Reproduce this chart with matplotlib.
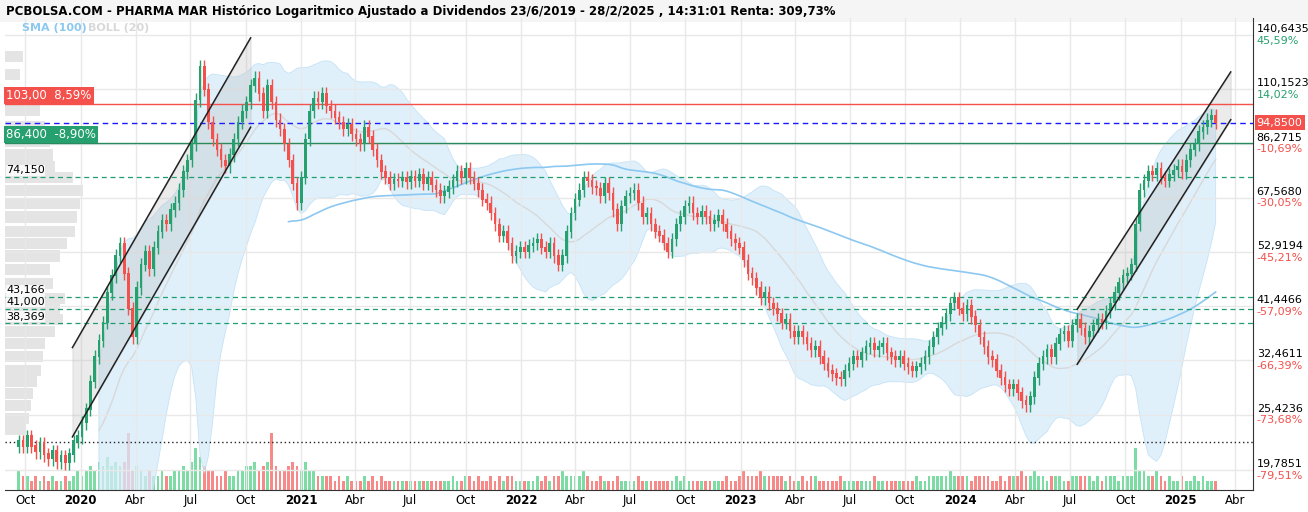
import numpy as np
import pandas as pd
import matplotlib
matplotlib.use("Agg")
import matplotlib.pyplot as plt

# weekly closes, Sep 2019 .. Feb 2025
closes = [
    22.5, 22.0, 23.0,
    22.0, 21.5, 22.3, 21.2,
    20.8, 21.5, 20.5, 21.0, 20.4,
    21.2, 22.5, 23.0, 24.5,
    26.0, 29.5, 33.0, 35.5, 38.5,
    44.0, 47.5, 52.0, 55.0,
    48.0, 41.0, 36.0, 45.0,
    50.0, 53.0, 49.0, 54.0,
    58.0, 61.0, 60.0, 64.0, 66.0,
    70.0, 76.0, 80.0, 86.0,
    105.0, 122.0, 110.0, 95.0, 88.0,
    84.0, 80.0, 78.0, 82.0,
    88.0, 95.0, 100.0, 104.0,
    112.0, 116.0, 108.0, 100.0, 112.0,
    104.0, 96.0, 92.0, 86.0,
    80.0, 72.0, 66.0, 74.0,
    88.0, 100.0, 106.0, 104.0, 108.0,
    102.0, 100.0, 97.0, 95.0,
    92.0, 94.0, 90.0, 88.0,
    86.0, 93.0, 89.0, 84.0, 80.0,
    76.0, 74.0, 72.0, 73.5,
    73.0, 74.0, 72.5, 74.5,
    73.0, 75.0, 72.0, 74.0, 71.5,
    70.0, 68.0, 69.5, 71.0,
    73.0, 76.0, 74.0, 77.0,
    74.0, 72.0, 70.0, 67.0, 66.0,
    63.0, 60.0, 57.0, 58.0,
    55.0, 52.0, 53.0, 54.0,
    53.0, 54.5, 55.0, 56.0,
    54.0, 53.0, 55.0, 52.0,
    50.0, 52.0, 58.0, 63.0,
    67.0, 70.0, 74.0, 73.0, 71.0,
    70.5, 68.0, 72.0, 69.0,
    64.0, 60.0, 65.0, 68.0,
    69.0, 70.0, 66.0, 62.0, 63.0,
    60.0, 58.0, 57.0, 55.0,
    53.0, 56.0, 60.0, 62.0, 65.0,
    66.0, 63.0, 62.0, 63.5,
    62.0, 60.0, 61.0, 62.5,
    60.0, 58.0, 56.0, 55.0, 54.0,
    51.0, 48.0, 47.0, 45.0,
    43.0, 44.0, 42.0, 41.0,
    40.0, 38.5, 39.0, 37.0, 36.0,
    37.0, 36.0, 35.0, 34.0,
    34.5, 33.0, 32.0, 31.0,
    30.5, 30.0, 29.8, 31.0, 32.0,
    33.0, 32.5, 33.5, 34.5,
    35.0, 34.0, 34.5, 35.0,
    33.5, 33.0, 32.5, 33.0, 32.0,
    31.5, 31.0, 31.5, 32.0,
    33.0, 34.5, 36.0, 37.5,
    38.5, 40.0, 42.0, 43.0, 41.0,
    40.0, 41.5, 39.5, 38.0,
    36.0, 34.5, 33.0, 32.5,
    31.0, 30.0, 29.0, 28.5, 29.0,
    28.0, 27.0, 26.5, 27.5,
    30.0, 32.0, 33.0, 34.0, 33.0,
    35.0, 36.5, 37.0, 35.5,
    38.0, 39.0, 37.5, 36.0,
    37.0, 38.0, 39.0, 38.5, 40.5,
    42.0, 44.0, 46.0, 47.5,
    48.0, 50.0, 60.0, 70.0,
    73.0, 76.0, 75.0, 77.0, 74.0,
    73.0, 75.0, 76.5, 78.0,
    76.0, 80.0, 84.0, 86.0, 91.0,
    93.0, 96.0, 98.0, 94.85,
]
first_open = 22.0

volumes = [
    4, 3, 3,
    2, 3, 2, 3,
    2, 3, 2, 2, 3,
    2, 3, 4, 3,
    4, 5, 4, 6, 5,
    7, 5, 6, 5,
    6, 12, 4, 5,
    4, 3, 4, 3,
    3, 4, 3, 3, 4,
    4, 5, 4, 6,
    9, 7, 5, 4, 4,
    3, 3, 4, 3,
    3, 4, 4, 5,
    5, 6, 4, 5, 6,
    12, 5, 4, 4,
    5, 6, 5, 4,
    6, 4, 4, 3, 3,
    3, 3, 2, 3,
    2, 3, 2, 2,
    2, 3, 2, 3, 2,
    3, 2, 2, 2,
    2, 2, 2, 2,
    2, 2, 2, 2, 2,
    2, 2, 2, 2,
    3, 2, 2, 3,
    3, 2, 3, 2, 2,
    3, 2, 3, 2,
    3, 3, 2, 2,
    2, 2, 2, 3,
    2, 3, 2, 3,
    3, 4, 3, 3,
    3, 3, 4, 3, 2,
    2, 3, 2, 2,
    2, 3, 2, 2,
    2, 2, 3, 2, 2,
    2, 2, 2, 2,
    2, 2, 3, 2, 3,
    2, 2, 2, 2,
    2, 2, 2, 2,
    2, 3, 2, 2, 3,
    4, 3, 3, 3,
    4, 3, 3, 3,
    3, 3, 2, 3, 2,
    2, 3, 2, 3,
    3, 2, 2, 2,
    2, 2, 3, 2, 2,
    2, 2, 2, 2,
    2, 3, 2, 2,
    2, 2, 2, 2, 2,
    2, 2, 3, 2,
    2, 3, 3, 3,
    3, 3, 4, 3, 3,
    3, 3, 2, 3,
    3, 3, 3, 2,
    2, 3, 2, 3, 3,
    3, 4, 3, 3,
    4, 3, 3, 2, 3,
    3, 3, 2, 2,
    3, 3, 3, 3,
    3, 2, 3, 2, 3,
    3, 3, 2, 3,
    3, 3, 9, 4,
    4, 3, 3, 4, 3,
    2, 3, 2, 2,
    3, 2, 2, 3, 2,
    3, 2, 2, 2,
]

# left volume-by-price profile
profile_prices = [128, 118, 108, 100, 93, 87, 82, 78, 74, 70, 66, 62, 58, 55, 52, 49,
                  46, 43, 41, 39, 37, 35, 33, 31, 29.5, 28, 26.5, 25, 23.8]
profile_widths = [18, 15, 20, 35, 40, 45, 48, 50, 68, 78, 75, 72, 70, 62, 55, 45,
                  48, 60, 55, 58, 50, 40, 38, 36, 32, 28, 26, 24, 20]

# channels: (start date, end date), upper start/end, lower start/end
channel_dates = [("2019-12-18", "2020-10-09"), ("2024-07-13", "2025-03-25")]
channel_upper = [(34.4, 139.0), (40.9, 119.2)]
channel_lower = [(23.0, 92.9), (31.9, 96.1)]

levels = [43.166, 41.0, 38.369, 74.15]
level_texts = ["43,166", "41,000", "38,369", "74,150"]
last_price = 94.85
red_level, green_level = 103.0, 86.4
base_level = 22.45

tick_prices = [140.6435, 110.1523, 86.2715, 67.568, 52.9194, 41.4466, 32.4611, 25.4236, 19.7851]
tick_pcts = ["45,59%", "14,02%", "-10,69%", "-30,05%", "-45,21%", "-57,09%", "-66,39%", "-73,68%", "-79,51%"]

GREEN = "#26a06e"
RED = "#f4504c"

dates = pd.date_range(end="2025-02-28", periods=len(closes), freq="W-FRI")
c = np.array(closes)
o = np.concatenate([[first_open], c[:-1]])
hi = np.maximum(o, c) * 1.03
lo = np.minimum(o, c) * 0.97
s = pd.Series(c, index=dates)
mid = s.rolling(20).mean()
sd = s.rolling(20).std()
sma = s.rolling(100, min_periods=65).mean()

W, H = 1308, 512
fig = plt.figure(figsize=(W / 100, H / 100), dpi=100)
ax = fig.add_axes([5 / W, 22 / H, 1248 / W, 472 / H])
ax.set_yscale("log")
ax.set_ylim(18.1, 152)
x0, x1 = pd.Timestamp("2019-08-28"), pd.Timestamp("2025-05-01")
ax.set_xlim(x0, x1)

# volume panel
vax = fig.add_axes(ax.get_position(), sharex=ax, frameon=False)
vax.set_ylim(0, 100)
vax.patch.set_alpha(0)
vcol = np.where(c >= o, "#7ddca3", "#f78a88")
vax.bar(dates, volumes, width=4.5, color=vcol, zorder=1)
vax.set_yticks([])
vax.tick_params(axis="x", bottom=False, labelbottom=False)

# profile (left, pixel widths)
pax = fig.add_axes(ax.get_position(), sharey=ax, frameon=False)
pax.set_xlim(0, 1248)
pax.barh(profile_prices, profile_widths, height=[p * 0.05 for p in profile_prices],
         color="#e4e4e4", zorder=0)
pax.set_xticks([])
pax.tick_params(axis="y", left=False, labelleft=False)
pax.patch.set_alpha(0)
ax.set_zorder(3)
ax.patch.set_alpha(0)

# grid
ax.set_yticks(tick_prices)
ax.yaxis.set_minor_locator(matplotlib.ticker.NullLocator())
ax.grid(True, color="#e8e8e8", lw=1)
ax.tick_params(axis="y", left=False, right=False, labelleft=False)

# bollinger and sma
ax.fill_between(dates, mid - 2 * sd, mid + 2 * sd, color="#d5ebfa", alpha=0.75, lw=0.6,
                edgecolor="#b9dcf5", zorder=1)
ax.plot(dates, mid, color="#d8d8d8", lw=1, zorder=1)
ax.plot(dates, sma, color="#8cc8f0", lw=1.2, zorder=2)

# channels
for (d0, d1), (u0, u1), (l0, l1) in zip(channel_dates, channel_upper, channel_lower):
    xd = [pd.Timestamp(d0), pd.Timestamp(d1)]
    ax.fill_between(xd, [l0, l1], [u0, u1], color="#bdbdbd", alpha=0.3, zorder=2)
    ax.plot(xd, [u0, u1], color="#222", lw=1.1, zorder=5)
    ax.plot(xd, [l0, l1], color="#222", lw=1.1, zorder=5)

# candles
col = np.where(c >= o, GREEN, RED)
ax.vlines(dates, lo, hi, color=col, lw=1, zorder=4)
ax.bar(dates, np.abs(c - o) + 0.15, bottom=np.minimum(o, c), width=4.5, color=col, zorder=4)

# levels
for lv in levels:
    ax.axhline(lv, color="#1f9e6e", lw=0.9, ls=(0, (4, 3)), zorder=3)
ax.axhline(red_level, color=RED, lw=1, zorder=3)
ax.axhline(green_level, color="#2a8a5e", lw=1, zorder=3)
ax.axhline(last_price, color="#1a1aff", lw=1, ls=(0, (4, 3)), zorder=3)
ax.axhline(base_level, color="#222", lw=1, ls=(0, (1, 2)), zorder=3)

tr = ax.get_yaxis_transform()
ax.text(0.001, red_level * 1.01, "103,00  8,59%", transform=tr, color="white", fontsize=8.5,
        va="bottom", bbox=dict(fc=RED, ec="none", pad=1.5), zorder=6)
ax.text(0.001, green_level * 1.01, "86,400  -8,90%", transform=tr, color="white", fontsize=8.5,
        va="bottom", bbox=dict(fc=GREEN, ec="none", pad=1.5), zorder=6)
for lv, t in zip(levels, level_texts):
    ax.text(0.001, lv * 1.008, t, transform=tr, fontsize=8, va="bottom", zorder=6,
            bbox=dict(fc="white", ec="none", pad=0.3, alpha=0.8))

# right price labels
for p, pc in zip(tick_prices, tick_pcts):
    ax.text(1.003, p * 1.005, f"{p:.4f}".replace(".", ","), transform=tr, fontsize=8,
            va="bottom", clip_on=False)
    ax.text(1.003, p * 0.997, pc, transform=tr, fontsize=8, va="top", clip_on=False,
            color=RED if pc.startswith("-") else GREEN)
ax.text(1.003, last_price, "94,8500", transform=tr, fontsize=8, va="center", color="white",
        clip_on=False, bbox=dict(fc=RED, ec="none", pad=1.5), zorder=7)

# x axis
ticks, labels = [], []
for yr in range(2019, 2026):
    for m, name in [(1, str(yr)), (4, "Abr"), (7, "Jul"), (10, "Oct")]:
        t = pd.Timestamp(yr, m, 1)
        if x0 < t < x1:
            ticks.append(t)
            labels.append(name)
ax.set_xticks(ticks)
ax.set_xticklabels(labels, fontsize=8.5)
for lb in ax.get_xticklabels():
    if lb.get_text().isdigit():
        lb.set_fontweight("bold")
ax.tick_params(axis="x", length=0, pad=3)
for sp in ["top", "left"]:
    ax.spines[sp].set_visible(False)
ax.spines["right"].set_color("#333")
ax.spines["bottom"].set_color("#333")

# header
fig.patches.append(plt.Rectangle((0, 490 / H), 1, 22 / H, transform=fig.transFigure,
                                 fc="#f5f5f5", ec="none"))
fig.text(6 / W, 1 - 12 / H, "PCBOLSA.COM - PHARMA MAR Histórico Logaritmico Ajustado a Dividendos "
         "23/6/2019 - 28/2/2025 , 14:31:01 Renta: 309,73%", fontsize=8.5, fontweight="bold", va="center")
fig.text(22 / W, 1 - 28 / H, "SMA (100)", color="#8cc8f0", fontsize=8, fontweight="bold", va="center")
fig.text(88 / W, 1 - 28 / H, "BOLL (20)", color="#d8d8d8", fontsize=8, fontweight="bold", va="center")

fig.savefig("out.png", dpi=100)
